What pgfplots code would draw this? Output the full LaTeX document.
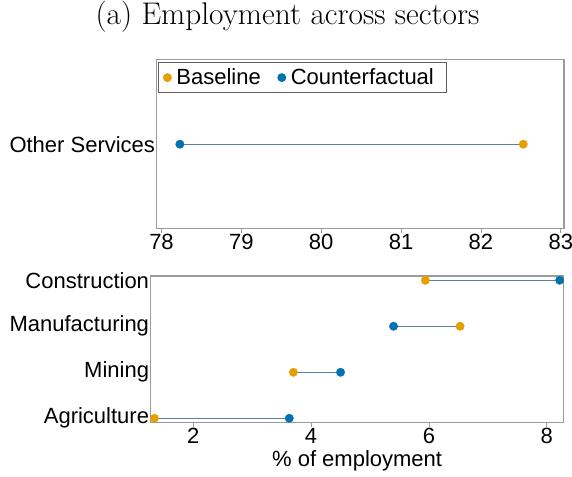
\documentclass[border=0pt]{standalone}
\usepackage{fontspec}
\usepackage{pgfplots}
\pgfplotsset{compat=1.18}
\newfontfamily\arial{Liberation Sans}
\definecolor{base}{HTML}{E69F00}
\definecolor{cf}{HTML}{0072B2}
\definecolor{conn}{RGB}{90,128,165}
\definecolor{framegray}{RGB}{155,155,155}
\definecolor{leggray}{RGB}{95,95,95}
\pgfplotsset{
  dumb/.style={
    scale only axis, clip=false, anchor=south west,
    font=\arial\fontsize{22}{26}\selectfont,
    tick label style={font=\arial\fontsize{22}{26}\selectfont},
    /pgf/number format/assume math mode=true,
    axis line style={draw=framegray, line width=1.3pt},
    xtick align=outside, xtick pos=lower, ytick pos=left,
    major tick length=4pt,
    xtick style={draw=framegray, line width=0.8pt},
    ytick style={draw=none},
    xticklabel style={inner sep=1pt},
    yticklabel style={inner sep=1.5pt},
  },
  ptb/.style={only marks, mark=*, mark size=4.2pt, color=base, mark options={fill=base, draw=base}},
  ptc/.style={only marks, mark=*, mark size=4.2pt, color=cf, mark options={fill=cf, draw=cf}},
  seg/.style={conn, line width=1pt, forget plot},
}
\begin{document}
\begin{tikzpicture}
\useasboundingbox (0pt,0pt) rectangle (572pt,476pt);
\node[font=\fontsize{31.3}{35}\selectfont] at (287.5pt,459pt) {(a) Employment across sectors};

\begin{axis}[dumb, at={(156.7pt,247.3pt)}, width=407.3pt, height=169pt,
  xmin=77.94, xmax=83.04, ymin=0, ymax=2,
  xtick={78,79,80,81,82,83}, ytick={1}, yticklabels={Other Services},
  legend columns=2,
  legend image code/.code={\draw[#1, mark size=4pt] plot coordinates {(0pt,0pt)};},
  legend style={at={(axis description cs:0,1)}, anchor=north west, xshift=1.3pt, yshift=-2.3pt,
    draw=leggray, line width=0.8pt, inner xsep=5pt, inner ysep=4.5pt,
    font=\arial\fontsize{22}{26}\selectfont,
    nodes={inner sep=2pt},
    /tikz/every odd column/.append style={column sep=3pt},
    /tikz/every even column/.append style={column sep=15pt}},
]
\addplot[seg] coordinates {(78.23,1) (82.53,1)};
\addplot[ptb] coordinates {(82.53,1)};
\addplot[ptc] coordinates {(78.23,1)};
\legend{Baseline, Counterfactual\kern6pt}
\end{axis}

\begin{axis}[dumb, at={(150.7pt,53.3pt)}, width=412.8pt, height=146.7pt,
  xmin=1.277, xmax=8.285, ymin=0.904, ymax=4.093,
  xtick={2,4,6,8}, ytick={1,2,3,4},
  yticklabels={Agriculture,Mining,Manufacturing,Construction},
  xlabel={\% of employment},
  xlabel style={at={(axis description cs:0.5,0)}, anchor=center, yshift=-38.3pt},
]
\addplot[seg] coordinates {(5.94,4) (8.22,4)};
\addplot[seg] coordinates {(5.40,3) (6.53,3)};
\addplot[seg] coordinates {(3.70,2) (4.50,2)};
\addplot[seg] coordinates {(1.34,1) (3.63,1)};
\addplot[ptb] coordinates {(5.94,4) (6.53,3) (3.70,2) (1.34,1)};
\addplot[ptc] coordinates {(8.22,4) (5.40,3) (4.50,2) (3.63,1)};
\end{axis}
\end{tikzpicture}
\end{document}
